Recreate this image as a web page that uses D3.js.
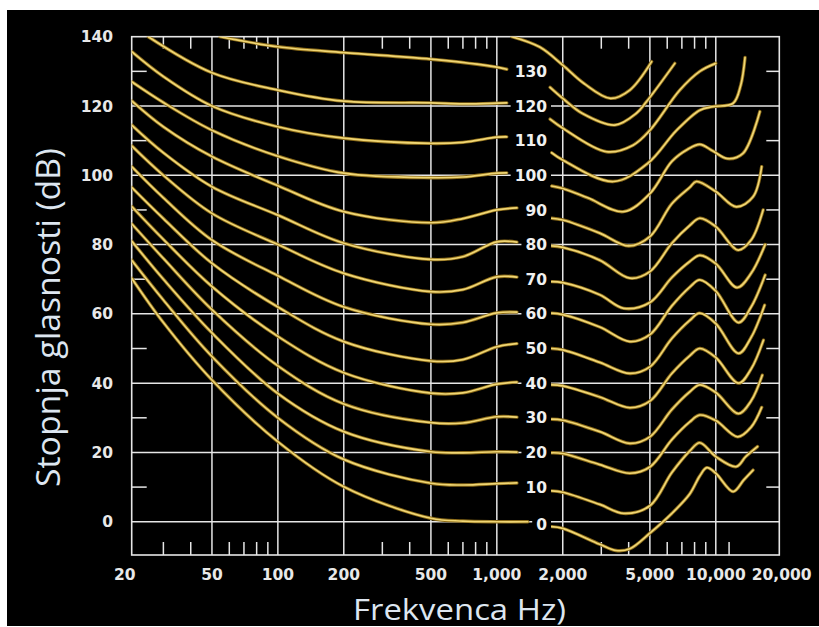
<!DOCTYPE html>
<html><head><meta charset="utf-8">
<script src="https://cdn.jsdelivr.net/npm/d3@7"></script>
<style>html,body{margin:0;padding:0;background:#fff;overflow:hidden}svg{display:block}</style>
</head><body>
<svg id="c" width="819" height="627"></svg>
<script>
// ---------- data ----------
const levels = [0,10,20,30,40,50,60,70,80,90,100,110,120,130];
const xTickValues = [20,50,100,200,500,1000,2000,5000,10000,20000];
const xGridValues = [50,100,200,500,1000,2000,5000,10000];
const xMinorTop = [30,40,60,70,80,90,300,400,600,700,800,900,3000,4000,6000,7000,8000,9000];
const xMinorBottom = [30,40,60,70,80,90,300,400,600,700,800,900,3000,4000,6000,7000,8000,9000,11500];
const yTickValues = [0,20,40,60,80,100,120,140];
const yMinorValues = [10,30,50,70,90,110,130];

// left parts (below ~1.3 kHz), [Hz, dB]
const leftCurves = [
 [[21.5,70.3],[30,57.5],[50,40.9],[100,23.1],[200,10.1],[500,1.0],[700,0.2],[1000,0],[1385,0]],
 [[21.5,75.5],[30,64],[50,47.7],[100,30],[200,18],[500,11.1],[700,10.6],[1000,11],[1235,11.2]],
 [[21.5,81],[30,70],[50,54.5],[100,37],[200,26],[500,20.2],[700,19.9],[1000,20.2],[1235,20.1]],
 [[21.5,86],[30,76],[50,61.2],[100,45],[200,34],[500,28.6],[700,28.5],[1000,30.3],[1235,30.2]],
 [[21.5,91],[30,81.5],[50,67.9],[100,53.5],[200,43],[500,37.1],[700,37.2],[1000,39.7],[1235,40.3]],
 [[21.5,96.5],[30,87.5],[50,74.6],[100,62],[200,52],[500,46.4],[700,46.8],[1000,50.5],[1235,51.4]],
 [[21.5,102.5],[30,93.5],[50,81.3],[100,71],[200,62],[500,57],[700,57.5],[1000,60.3],[1235,60.5]],
 [[21.5,108.5],[30,100],[50,89],[100,80],[200,71.7],[500,66.4],[700,67],[1000,70.7],[1235,70.6]],
 [[21.5,114.5],[30,106.5],[50,96.7],[100,88.5],[200,80.4],[500,75.7],[700,76.5],[1000,80.8],[1235,80.7]],
 [[21.5,121.5],[30,114],[50,105.4],[100,97],[200,89.5],[500,86.3],[700,87.5],[1000,90],[1235,90.6]],
 [[21.5,127],[30,121],[50,113],[100,105.5],[200,100.6],[500,99.3],[700,99.5],[1000,100.6],[1110,100.7]],
 [[21.5,135.7],[30,128.5],[50,120],[100,114],[200,110.7],[500,109.2],[700,109.5],[1000,111],[1110,111.1]],
 [[25.6,140],[50,129.6],[100,124.6],[200,121.4],[500,120.9],[700,120.6],[1000,120.8],[1110,120.9]],
 [[54.4,140],[100,137.1],[200,135.4],[500,133.5],[1000,131.2],[1110,130.6]]
];

// right parts (above ~1.8 kHz), [Hz, dB]; the last one has no left part
const rightCurves = [
 [[1780,-1.4],[2000,-1.9],[2950,-6.5],[3500,-8.3],[4050,-7.8],[5000,-3.3],[6300,2.4],[7600,8],[8450,13.2],[9100,15.6],[10000,14],[12000,8.7],[13400,12],[14800,14.9]],
 [[1780,8.9],[2000,8.5],[2950,5],[3800,2.4],[5000,4.6],[6300,14.2],[7600,20.4],[8450,22.8],[10000,18.8],[12400,15.9],[13700,18.8],[15500,21.7]],
 [[1780,19.9],[2000,19.7],[2950,16.5],[4050,14],[5000,15.8],[6300,23.7],[7600,28.8],[8450,30.8],[10000,29.2],[12600,24.5],[14500,27.3],[16200,33]],
 [[1780,29.6],[2000,29.3],[2950,26],[4050,22.6],[5000,24.5],[6300,32.4],[7600,37.5],[8450,39.5],[10000,37.3],[12700,31.2],[14500,34.9],[16300,42.3]],
 [[1780,39.5],[2000,39.2],[2950,36],[4050,32.9],[5000,34.8],[6300,42.8],[7600,47.9],[8450,50],[10000,47.4],[12700,40],[14500,44.1],[16500,52.4]],
 [[1780,50],[2000,49.6],[2950,46],[4050,42.8],[5000,44.7],[6300,52.9],[7600,58.1],[8450,60.2],[10000,57.2],[12700,48.6],[14500,53.2],[16700,62.5]],
 [[1780,60.2],[2000,59.8],[2950,56.2],[4050,52],[5000,54],[6300,62.3],[7600,67.7],[8450,69.8],[10000,66.6],[12700,57.5],[14500,62],[16800,71.2]],
 [[1780,69.3],[2000,69],[2950,65.5],[3800,61.6],[5000,63.3],[6300,70.5],[7600,75.1],[8450,76.9],[10000,74.5],[12500,67.6],[14500,71.7],[16800,80]],
 [[1780,79.6],[2000,79.2],[2950,75.5],[4050,70.3],[5000,72.2],[6300,80.4],[7600,85.5],[8450,87.6],[10000,85.2],[12650,78.4],[14500,81.3],[16450,90]],
 [[1780,87.6],[2000,87.1],[2950,83.3],[4000,79.6],[5000,82.3],[6300,91.8],[7600,96.5],[8160,98.2],[10000,95.3],[12400,90.9],[14800,93.8],[16200,102.5]],
 [[1780,96.9],[2000,96.2],[2600,93.5],[3790,89.5],[5000,94.7],[6300,104],[7450,107.5],[8450,108.9],[9700,107],[11300,104.8],[13300,106.3],[15900,118.4]],
 [[1780,106.5],[2000,104.4],[3400,98.2],[4900,103.5],[6600,112.9],[8450,118.8],[9700,119.8],[12000,120.8],[13000,126],[13600,134]],
 [[1750,116.2],[2000,113.6],[3170,106.8],[4190,108.7],[5000,113],[6850,124.6],[8450,130],[10000,132.3]],
 [[1750,125.4],[2000,122.2],[2450,117.9],[3460,114.5],[4340,117.9],[4820,121.2],[6500,132.3]],
 [[1170,140],[1570,137],[2000,131.8],[2500,126.5],[3300,122.2],[4050,124.6],[5090,132.8]]
];

// ---------- drawing ----------
const svg = d3.select("#c");
const W = 819, H = 627;
const x = d3.scaleLog().domain([21.5, 19500]).range([131.7, 779.3]);
const y = d3.scaleLinear().domain([-9.6, 140]).range([555, 36.7]);
const [x0, x1] = x.range(), [y0, y1] = y.range();

svg.append("rect").attr("x",7).attr("y",10).attr("width",W-7).attr("height",616).attr("fill","#000");

const gridCol = "#e6e6e6";
const g = svg.append("g");
g.selectAll(".hg").data(yTickValues.filter(v=>v<140)).join("line")
  .attr("x1",x0).attr("x2",x1).attr("y1",d=>y(d)).attr("y2",d=>y(d))
  .attr("stroke",gridCol).attr("stroke-width",1.5);
g.selectAll(".vg").data(xGridValues).join("line")
  .attr("x1",d=>x(d)).attr("x2",d=>x(d)).attr("y1",y0).attr("y2",y1)
  .attr("stroke",gridCol).attr("stroke-width",1.5);
g.selectAll(".mt").data(xMinorTop).join("line")
  .attr("x1",d=>x(d)).attr("x2",d=>x(d)).attr("y1",y1).attr("y2",y1+12)
  .attr("stroke",gridCol).attr("stroke-width",1.5);
g.selectAll(".mb").data(xMinorBottom).join("line")
  .attr("x1",d=>x(d)).attr("x2",d=>x(d)).attr("y1",y0).attr("y2",y0-13)
  .attr("stroke",gridCol).attr("stroke-width",1.5);
g.selectAll(".ml").data(yMinorValues).join("line")
  .attr("x1",x0).attr("x2",x0+15).attr("y1",d=>y(d)).attr("y2",d=>y(d))
  .attr("stroke",gridCol).attr("stroke-width",1.5);
g.selectAll(".mr").data(yMinorValues).join("line")
  .attr("x1",x1-13).attr("x2",x1).attr("y1",d=>y(d)).attr("y2",d=>y(d))
  .attr("stroke",gridCol).attr("stroke-width",1.5);
g.append("rect").attr("x",x0).attr("y",y1).attr("width",x1-x0).attr("height",y0-y1)
  .attr("fill","none").attr("stroke",gridCol).attr("stroke-width",1.6);

const tickFont = "bold 15.5px 'DejaVu Sans', Verdana, sans-serif";
svg.selectAll(".yl").data(yTickValues).join("text")
  .attr("x",113).attr("y",d=>y(d)).attr("dy","0.36em").attr("text-anchor","end")
  .style("font",tickFont).attr("fill","#e8e8e8").text(d=>d);
svg.selectAll(".xl").data(xTickValues).join("text")
  .attr("x",d=>x(d)).attr("y",580).attr("text-anchor","middle")
  .style("font",tickFont).attr("fill","#e8e8e8").text(d=>d3.format(",")(d));

// curve labels with black backgrounds
const labX = 547;
const labG = svg.append("g");
const labs = labG.selectAll("text").data(levels).join("text")
  .attr("x",labX).attr("y",d=>y(d)).attr("dy",d=>d===0?"0.55em":"0.36em").attr("text-anchor","end")
  .style("font",tickFont).attr("fill","#f0f0f0").text(d=>d);
labs.each(function(){
  const b = this.getBBox();
  labG.insert("rect","text").attr("x",b.x-4).attr("y",b.y).attr("width",labX+4-(b.x-4)).attr("height",b.height).attr("fill","#000");
});

// curves
svg.append("clipPath").attr("id","clip").append("rect")
  .attr("x",x0).attr("y",y1).attr("width",x1-x0).attr("height",y0-y1);
const line = d3.line().x(d=>x(d[0])).y(d=>y(d[1])).curve(d3.curveCatmullRom.alpha(0.5));
const curveG = svg.append("g").attr("clip-path","url(#clip)");
const allParts = leftCurves.concat(rightCurves);
curveG.selectAll(".glow").data(allParts).join("path")
  .attr("d",line).attr("fill","none").attr("stroke","#8a6a18").attr("stroke-width",3.4).attr("stroke-linecap","round");
curveG.selectAll(".core").data(allParts).join("path")
  .attr("d",line).attr("fill","none").attr("stroke","#f0d674").attr("stroke-width",1.7).attr("stroke-linecap","round");
labG.raise();

// titles
svg.append("text").attr("transform","translate(60,317.5) rotate(-90)")
  .attr("text-anchor","middle").attr("textLength",339).attr("lengthAdjust","spacingAndGlyphs")
  .style("font","33px 'Open Sans', 'Noto Sans', sans-serif").attr("fill","#dde6f0")
  .text("Stopnja glasnosti (dB)");
svg.append("text").attr("x",459.5).attr("y",620)
  .attr("text-anchor","middle").attr("textLength",213).attr("lengthAdjust","spacingAndGlyphs")
  .style("font","29px 'Open Sans', 'Noto Sans', sans-serif").attr("fill","#dde6f0")
  .text("Frekvenca Hz)");
</script>
</body></html>
